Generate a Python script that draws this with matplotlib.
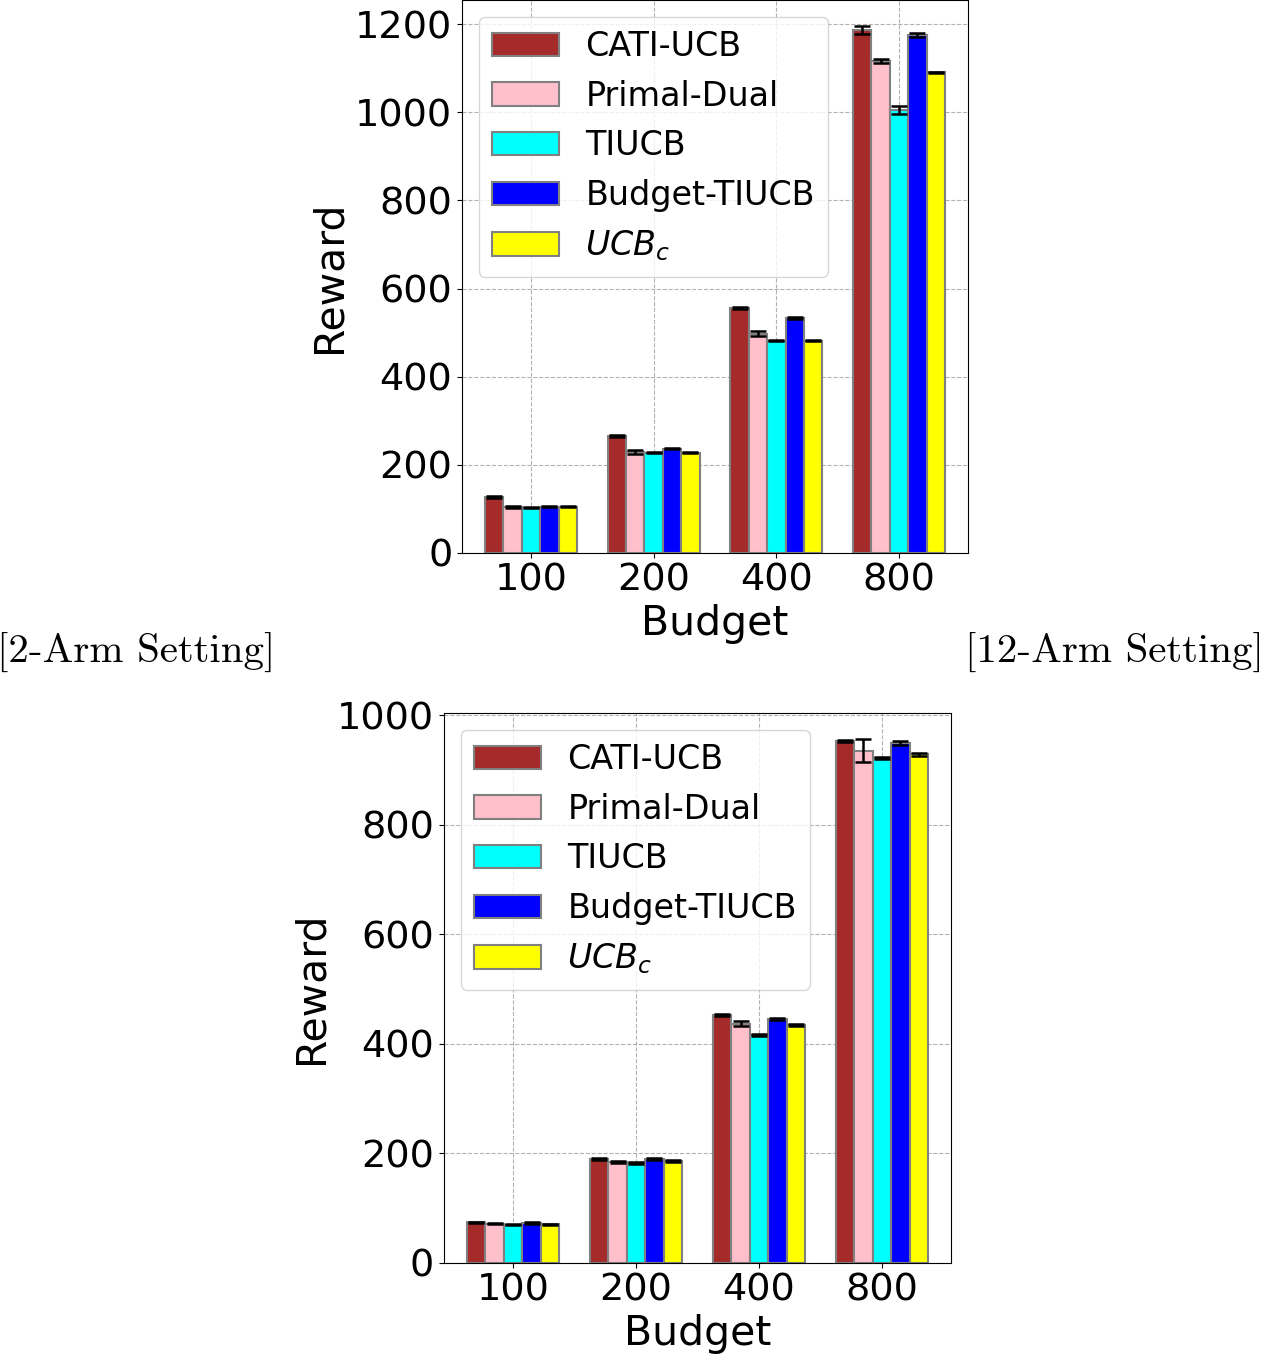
import numpy as np
import matplotlib
matplotlib.use("Agg")
import matplotlib.pyplot as plt

budgets = ["100", "200", "400", "800"]
methods = ["CATI-UCB", "Primal-Dual", "TIUCB", "Budget-TIUCB", r"$UCB_c$"]
colors = ["brown", "pink", "cyan", "blue", "yellow"]

# 2-arm setting (top)
reward_2 = [
    [127, 265, 555, 1186],   # CATI-UCB
    [104, 229, 498, 1116],   # Primal-Dual
    [103, 227, 482, 1005],   # TIUCB
    [105, 237, 533, 1176],   # Budget-TIUCB
    [105, 227, 482, 1091],   # UCB_c
]
err_2 = [
    [1.5, 2.5, 2.5, 9],
    [1.5, 4, 6, 5],
    [1, 1, 1.5, 9],
    [1, 2, 2, 5],
    [1, 1, 1.5, 1.5],
]

# 12-arm setting (bottom)
reward_12 = [
    [74, 190, 452, 953],
    [72, 184, 437, 935],
    [70, 182, 416, 922],
    [73, 190, 445, 949],
    [71, 186, 435, 928],
]
err_12 = [
    [1, 1.5, 1.5, 2],
    [1, 1.5, 5, 21],
    [1, 1.5, 2, 2],
    [1, 1.5, 2, 3],
    [1, 1.5, 2, 2],
]

fig = plt.figure(figsize=(12.63, 13.57), dpi=100)
ax1 = fig.add_axes([0.3658, 0.5925, 0.4006, 0.4075])
ax2 = fig.add_axes([0.3515, 0.0693, 0.4015, 0.4053])

def draw(ax, vals, errs):
    x = np.arange(len(budgets))
    w = 0.15
    for i in range(len(methods)):
        ax.bar(x + (i - 2) * w, vals[i], w, yerr=errs[i], color=colors[i],
               edgecolor="gray", linewidth=1.5, label=methods[i],
               error_kw=dict(ecolor="black", elinewidth=1.8, capsize=6, capthick=1.8))
    ax.set_xticks(x)
    ax.set_xticklabels(budgets)
    ax.tick_params(labelsize=27.5)
    ax.set_xlabel("Budget", fontsize=29.5, labelpad=4)
    ax.set_ylabel("Reward", fontsize=29.5)
    ax.grid(True, linestyle="--", color="gray", alpha=0.6, linewidth=0.8)
    ax.set_axisbelow(True)
    ax.legend(loc="upper left", fontsize=24, handlelength=2.0, handleheight=0.7)

draw(ax1, reward_2, err_2)
draw(ax2, reward_12, err_12)

fig.text(-0.002, 0.5185, "[2-Arm Setting]", family="cmr10", fontsize=29.5,
         ha="left", va="center")
fig.text(1.001, 0.5185, "[12-Arm Setting]", family="cmr10", fontsize=29.5,
         ha="right", va="center")

fig.savefig("out.png", dpi=100)
